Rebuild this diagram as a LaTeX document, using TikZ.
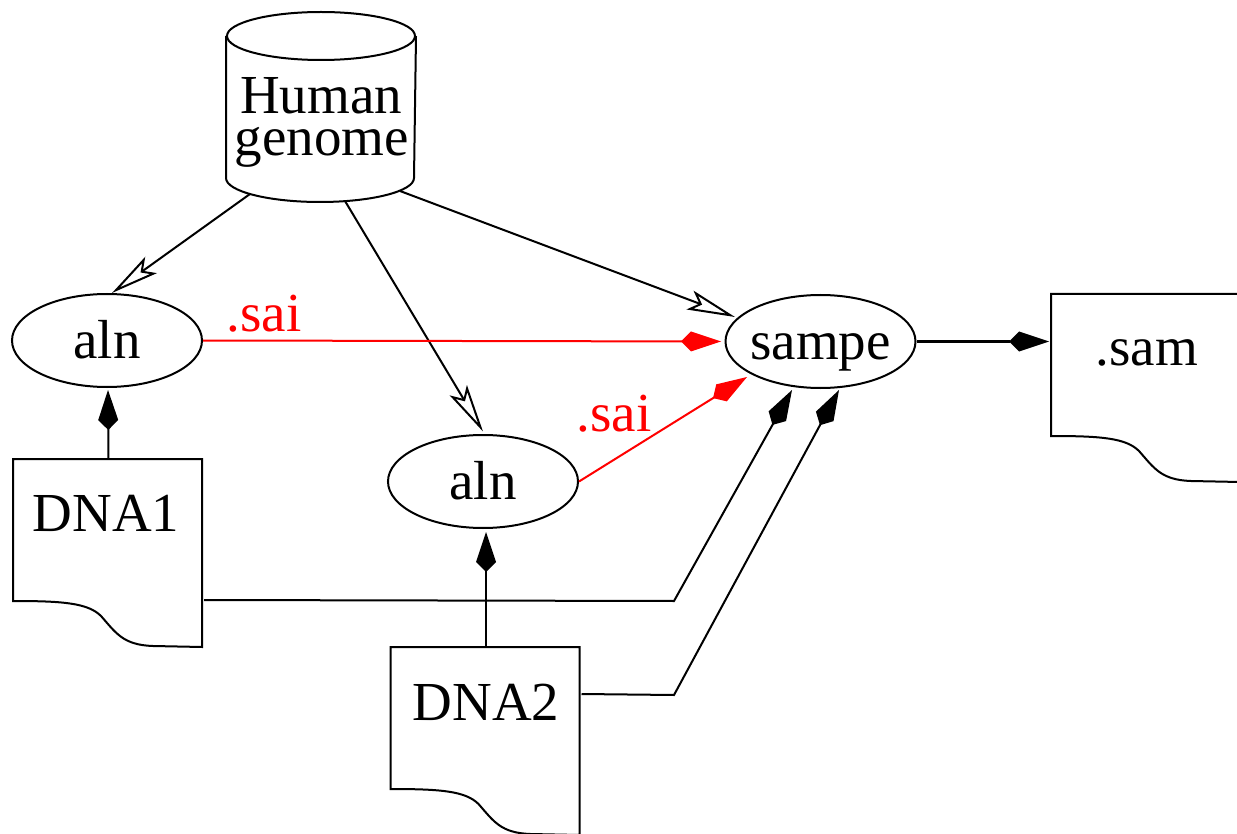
\documentclass[tikz,border=0pt]{standalone}
\usepackage{fontspec}
\setmainfont{Liberation Serif}
\usetikzlibrary{arrows.meta,shapes.geometric,calc}
\begin{document}
\begin{tikzpicture}[x=0.5pt,y=0.5pt,line width=1pt,
  txt/.style={font=\fontsize{27.5}{33}\selectfont, inner sep=0pt},
  proc/.style={ellipse, draw, minimum width=95pt, minimum height=46.5pt, inner ysep=0pt, inner xsep=-15pt,
    font=\fontsize{27.5}{33}\selectfont, text height=19pt, text depth=1.5pt},
  notebox/.style={rectangle, draw=none, minimum width=94.5pt, minimum height=94pt, inner sep=0pt},
  openarr/.style={-{Stealth[open,length=24pt,width=10pt,inset=5pt]}},
  kitearr/.style={-{Kite[length=20pt,width=10pt,inset=5pt]}},
  redarr/.style={red, kitearr}
]
\useasboundingbox (0,0) rectangle (1237,-834);

% Human genome (cylinder)
\node[notebox, minimum width=94pt] (hg) at (321,-107) {};
\draw ([yshift=-12pt]hg.north) ellipse [x radius=47pt, y radius=12pt];
\draw ([yshift=-12pt]hg.north west) -- ([yshift=12pt]hg.south west)
  arc[start angle=180, end angle=360, x radius=47pt, y radius=12pt]
  -- ([yshift=-12pt]hg.north east);
\node[txt, anchor=base] (hgt1) at (321,-114) {Human};
\node[txt, anchor=base] (hgt2) at (322,-156) {genome};

% process ellipses
\node[proc] (aln1) at (107,-340.5) {aln};
\node[proc] (aln2) at (483,-481.5) {aln};
\node[proc] (sampe) at (820.5,-341.5) {sampe};

% notes
\node[notebox] (d1) at (108.5,-554) {};
\node[notebox] (d2) at (486,-742) {};
\node[notebox] (sam) at (1146.5,-389) {};
\foreach \n in {d1,d2,sam}{
  \draw[shift={(\n.north west)}] (0,-142) -- (0,0) -- (189,0) -- (189,-188) -- (140,-187)
    .. controls (110,-186) and (103,-174) .. (88,-157)
    .. controls (75,-144) and (50,-142) .. cycle;
}
\node[txt, anchor=base] (d1t) at (106,-531) {DNA1};
\node[txt, anchor=base] (d2t) at (486,-720) {DNA2};
\node[txt, anchor=base] (samt) at (1147,-365) {.sam};

% genome edges
\draw[openarr] ([shift={(-35.5pt,4pt)}]hg.south) -- ($(aln1.center)+(5,47.5)$);
\draw[openarr] ([shift={(12pt,0.5pt)}]hg.south) -- ($(aln2.center)+(0,50)$);
\draw[openarr] ([shift={(39.5pt,5.5pt)}]hg.south) -- ($(sampe.center)+(-85.5,24.5)$);

% red .sai edges
\draw[redarr] (aln1.east) -- ($(sampe.center)+(-99.5,0)$);
\node[txt, red, anchor=base] (sai1) at (264,-332) {.sai};
\draw[redarr] (aln2.east) -- ($(sampe.center)+(-73.5,-35.5)$);
\node[txt, red, anchor=base] (sai2) at (614,-431) {.sai};

% DNA edges
\draw[kitearr] (d1.north) -- ($(aln1.center)+(1,-49.5)$);
\draw[kitearr] (d2.north) -- ($(d2.north |- aln2.center)+(0,-50.5)$);
\coordinate (b1) at (674,-601);
\coordinate (b2) at (674,-695);
\draw[kitearr] ([yshift=-70.5pt]d1.north east) -- (b1) -- ($(sampe.center)+(-28.5,-48.5)$);
\draw[kitearr] ([yshift=-23.5pt]d2.north east) -- (b2) -- ($(sampe.center)+(18.5,-48.5)$);

% output
\draw[kitearr] (sampe.east) -- ($(sampe.east -| sam.west)+(-2,0)$);
\end{tikzpicture}
\end{document}
